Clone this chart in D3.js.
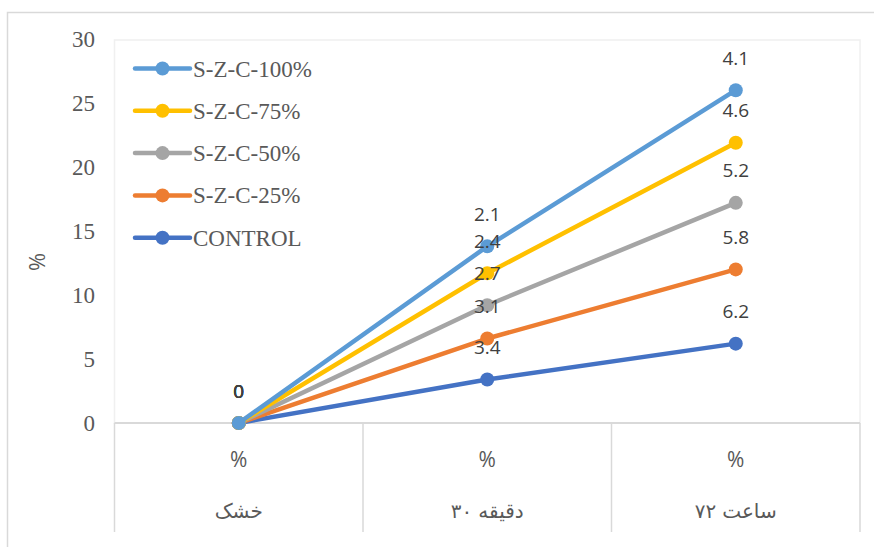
<!DOCTYPE html>
<html>
<head>
<meta charset="utf-8">
<script src="https://cdn.jsdelivr.net/npm/d3@7"></script>
<style>
  body { margin: 0; background: #fff; }
  svg { display: block; }
</style>
</head>
<body>
<div id="chart"></div>
<script>
// categories: upper row (unit) and lower row (time)
var categories = ["خشک", "۳۰ دقیقه", "۷۲ ساعت"];
var unitLabels = ["%", "%", "%"];

var seriesNames = ["S-Z-C-100%", "S-Z-C-75%", "S-Z-C-50%", "S-Z-C-25%", "CONTROL"];
var seriesColors = ["#5B9BD5", "#FFC000", "#A5A5A5", "#ED7D31", "#4472C4"];

var szc100 = [0, 13.8, 26.0];
var szc75 = [0, 11.7, 21.9];
var szc50 = [0, 9.2, 17.2];
var szc25 = [0, 6.6, 12.0];
var control = [0, 3.4, 6.2];

// data labels as printed on the chart
var labels100 = ["0", "2.1", "4.1"];
var labels75 = ["0", "2.4", "4.6"];
var labels50 = ["0", "2.7", "5.2"];
var labels25 = ["0", "3.1", "5.8"];
var labelsControl = ["0", "3.4", "6.2"];

var yTicks = [0, 5, 10, 15, 20, 25, 30];

var series = [
  {name: seriesNames[0], color: seriesColors[0], values: szc100, labels: labels100},
  {name: seriesNames[1], color: seriesColors[1], values: szc75, labels: labels75},
  {name: seriesNames[2], color: seriesColors[2], values: szc50, labels: labels50},
  {name: seriesNames[3], color: seriesColors[3], values: szc25, labels: labels25},
  {name: seriesNames[4], color: seriesColors[4], values: control, labels: labelsControl}
];

var width = 874, height = 547;
var plot = {left: 114.5, right: 860, top: 39, bottom: 423};

var svg = d3.select("#chart").append("svg")
    .attr("width", width)
    .attr("height", height);

// outer chart frame
svg.append("rect")
    .attr("x", 7.5).attr("y", 12.5)
    .attr("width", 880).attr("height", 560)
    .attr("fill", "#fff")
    .attr("stroke", "#d9d9d9")
    .attr("stroke-width", 1.5);

var x = d3.scaleBand()
    .domain(categories)
    .range([plot.left, plot.right])
    .paddingInner(0).paddingOuter(0);

var y = d3.scaleLinear()
    .domain([0, 30])
    .range([plot.bottom, plot.top]);

var cx = d => x(d) + x.bandwidth() / 2;

// plot area border (faint)
svg.append("rect")
    .attr("x", plot.left).attr("y", y(30) + 1)
    .attr("width", plot.right - plot.left)
    .attr("height", plot.bottom - y(30) - 1)
    .attr("fill", "none")
    .attr("stroke", "#f0f0f0")
    .attr("stroke-width", 1.5);

// y axis tick labels
svg.append("g")
  .selectAll("text")
    .data(yTicks)
  .enter().append("text")
    .attr("x", 95)
    .attr("y", d => y(d))
    .attr("dy", "0.35em")
    .attr("text-anchor", "end")
    .style("font-family", "'Liberation Serif', serif")
    .style("font-size", "23px")
    .style("fill", "#595959")
    .text(d => d);

// y axis title
svg.append("text")
    .attr("transform", "translate(37,262) rotate(-90)")
    .attr("dy", "0.35em")
    .attr("text-anchor", "middle")
    .style("font-family", "'Open Sans', sans-serif")
    .style("font-size", "22px")
    .style("fill", "#595959")
    .text("%");

// category axis: baseline and dividers
var axisBottom = 532;
svg.append("line")
    .attr("x1", plot.left).attr("x2", plot.right)
    .attr("y1", y(0)).attr("y2", y(0))
    .attr("stroke", "#d9d9d9")
    .attr("stroke-width", 2);

svg.append("g")
  .selectAll("line")
    .data(categories.map(d => x(d)).concat([plot.right]))
  .enter().append("line")
    .attr("x1", d => d).attr("x2", d => d)
    .attr("y1", y(0)).attr("y2", axisBottom)
    .attr("stroke", "#d9d9d9")
    .attr("stroke-width", 1.5);

svg.append("g")
  .selectAll("text")
    .data(categories)
  .enter().append("text")
    .attr("x", d => cx(d))
    .attr("y", 460)
    .attr("dy", "0.35em")
    .attr("text-anchor", "middle")
    .style("font-family", "'Open Sans', sans-serif")
    .style("font-size", "21px")
    .style("fill", "#595959")
    .text((d, i) => unitLabels[i]);

// Persian time labels: number placed left of the word, each part its own text
var gap = 6;
categories.forEach(function(cat) {
  var g = svg.append("g");
  var parts = cat.split(" ");
  var nodes = parts.map(function(p) {
    return g.append("text")
        .attr("y", 511)
        .attr("dy", "0.35em")
        .style("font-family", "'DejaVu Sans', sans-serif")
        .style("font-size", "20px")
        .style("fill", "#595959")
        .text(p);
  });
  var widths = nodes.map(n => n.node().getComputedTextLength());
  var total = d3.sum(widths) + gap * (parts.length - 1);
  var pos = cx(cat) - total / 2;
  nodes.forEach(function(n, i) {
    n.attr("x", pos);
    pos += widths[i] + gap;
  });
});

// lines and markers, CONTROL drawn first so 100% ends on top
var line = d3.line()
    .x((d, i) => cx(categories[i]))
    .y(d => y(d));

var drawOrder = series.slice().reverse();

var lines = svg.append("g");
drawOrder.forEach(function(s) {
  lines.append("path")
      .attr("d", line(s.values))
      .attr("fill", "none")
      .attr("stroke", s.color)
      .attr("stroke-width", 4.5)
      .attr("stroke-linejoin", "round")
      .attr("stroke-linecap", "round");
  lines.selectAll(null)
      .data(s.values)
    .enter().append("circle")
      .attr("cx", (d, i) => cx(categories[i]))
      .attr("cy", d => y(d))
      .attr("r", 7)
      .attr("fill", s.color);
});

// data labels
var labelsG = svg.append("g");
drawOrder.forEach(function(s) {
  labelsG.selectAll(null)
      .data(s.values)
    .enter().append("text")
      .attr("x", (d, i) => cx(categories[i]))
      .attr("y", d => y(d) - 32)
      .attr("dy", "0.35em")
      .attr("text-anchor", "middle")
      .style("font-family", "'Open Sans', sans-serif")
      .style("font-size", "19px")
      .style("fill", "#404040")
      .text((d, i) => s.labels[i]);
});

// legend
var legend = svg.append("g")
  .selectAll("g")
    .data(series)
  .enter().append("g")
    .attr("transform", (d, i) => `translate(135,${68.5 + i * 42.3})`);

legend.append("line")
    .attr("x1", 0).attr("x2", 55)
    .attr("stroke", d => d.color)
    .attr("stroke-width", 4.5)
    .attr("stroke-linecap", "round");

legend.append("circle")
    .attr("cx", 27.5)
    .attr("r", 7)
    .attr("fill", d => d.color);

legend.append("text")
    .attr("x", 58)
    .attr("dy", "0.35em")
    .style("font-family", "'Liberation Serif', serif")
    .style("font-size", "23px")
    .style("fill", "#595959")
    .text(d => d.name);
</script>
</body>
</html>
